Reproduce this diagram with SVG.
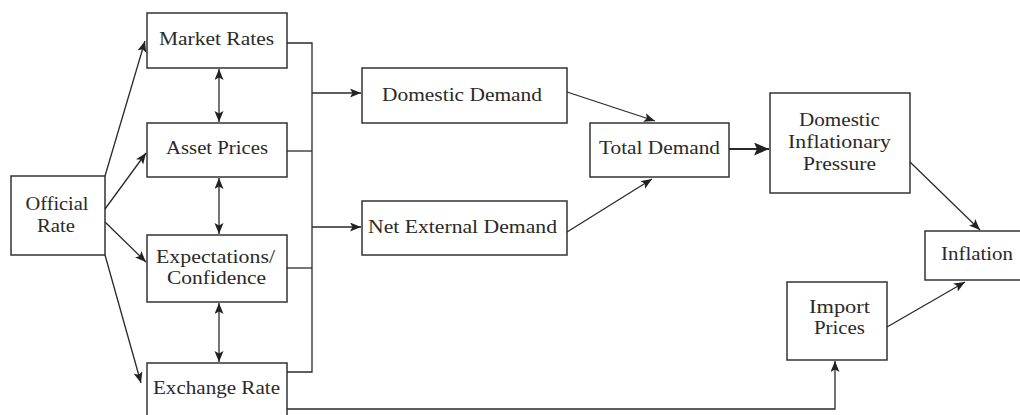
<svg xmlns="http://www.w3.org/2000/svg" width="1020" height="415" viewBox="0 0 1020 415">
<style>
rect{fill:#fff;stroke:#333;stroke-width:1.5}
text{font-family:"Liberation Serif","Times New Roman",serif;font-size:19px;fill:#2a2a2a;text-anchor:middle}
.c line,.c polyline{fill:none;stroke:#2a2a2a;stroke-width:1.3}
.c .thick{stroke-width:2.2}
</style>
<defs>
<marker id="a" markerUnits="userSpaceOnUse" markerWidth="12" markerHeight="10" refX="11" refY="4.5" orient="auto-start-reverse"><path d="M0,0 L11,4.5 L0,9 L2.5,4.5 z" fill="#222"/></marker>
<marker id="b" markerUnits="userSpaceOnUse" markerWidth="16" markerHeight="14" refX="15" refY="6.5" orient="auto"><path d="M0,0 L15,6.5 L0,13 L3,6.5 z" fill="#222"/></marker>
</defs>
<g id="official"><rect x="11" y="176" width="94" height="79"/><text x="57" y="210" textLength="63" lengthAdjust="spacingAndGlyphs">Official</text><text x="56" y="232" textLength="38" lengthAdjust="spacingAndGlyphs">Rate</text></g>
<g id="market"><rect x="147" y="13" width="140" height="55"/><text x="216.5" y="45" textLength="115" lengthAdjust="spacingAndGlyphs">Market Rates</text></g>
<g id="asset"><rect x="147" y="123" width="140" height="54"/><text x="217" y="154" textLength="102" lengthAdjust="spacingAndGlyphs">Asset Prices</text></g>
<g id="expect"><rect x="147" y="235" width="140" height="67"/><text x="215.5" y="263" textLength="119" lengthAdjust="spacingAndGlyphs">Expectations/</text><text x="216.5" y="284" textLength="99" lengthAdjust="spacingAndGlyphs">Confidence</text></g>
<g id="exchange"><rect x="147" y="363" width="140" height="60"/><text x="216.5" y="394" textLength="127" lengthAdjust="spacingAndGlyphs">Exchange Rate</text></g>
<g id="domdemand"><rect x="362" y="68" width="205" height="55"/><text x="462" y="101" textLength="160" lengthAdjust="spacingAndGlyphs">Domestic Demand</text></g>
<g id="netext"><rect x="362" y="201" width="205" height="54"/><text x="462.5" y="233" textLength="189" lengthAdjust="spacingAndGlyphs">Net External Demand</text></g>
<g id="total"><rect x="590" y="123" width="139" height="54"/><text x="659.5" y="154" textLength="121" lengthAdjust="spacingAndGlyphs">Total Demand</text></g>
<g id="dip"><rect x="770" y="93" width="140" height="100"/><text x="839.5" y="126" textLength="81" lengthAdjust="spacingAndGlyphs">Domestic</text><text x="839.5" y="148" textLength="103" lengthAdjust="spacingAndGlyphs">Inflationary</text><text x="839.5" y="170" textLength="73" lengthAdjust="spacingAndGlyphs">Pressure</text></g>
<g id="inflation"><rect x="925" y="231" width="100" height="49"/><text x="977" y="260" textLength="72" lengthAdjust="spacingAndGlyphs">Inflation</text></g>
<g id="import"><rect x="787" y="282" width="100" height="78"/><text x="839.5" y="313" textLength="61" lengthAdjust="spacingAndGlyphs">Import</text><text x="839.5" y="334" textLength="51" lengthAdjust="spacingAndGlyphs">Prices</text></g>
<g id="connectors" class="c">
<line x1="105" y1="176" x2="145" y2="41" marker-end="url(#a)"/>
<line x1="105" y1="209" x2="146" y2="153" marker-end="url(#a)"/>
<line x1="105" y1="222" x2="146" y2="262" marker-end="url(#a)"/>
<line x1="105" y1="255" x2="141" y2="383" marker-end="url(#a)"/>
<line x1="219" y1="69" x2="219" y2="122" marker-start="url(#a)" marker-end="url(#a)"/>
<line x1="219" y1="178" x2="219" y2="234" marker-start="url(#a)" marker-end="url(#a)"/>
<line x1="219" y1="303" x2="219" y2="362" marker-start="url(#a)" marker-end="url(#a)"/>
<polyline points="287,43 312,43 312,372 287,372"/>
<line x1="287" y1="151" x2="312" y2="151"/>
<line x1="287" y1="268" x2="312" y2="268"/>
<line x1="312" y1="93" x2="361" y2="93" marker-end="url(#a)"/>
<line x1="312" y1="227" x2="361" y2="227" marker-end="url(#a)"/>
<line x1="567" y1="92" x2="655" y2="121" marker-end="url(#a)"/>
<line x1="567" y1="232" x2="652" y2="179" marker-end="url(#a)"/>
<line class="thick" x1="729" y1="149" x2="769" y2="149" marker-end="url(#b)"/>
<line x1="910" y1="162" x2="980" y2="230" marker-end="url(#a)"/>
<line x1="887" y1="327" x2="965" y2="282" marker-end="url(#a)"/>
<polyline points="287,409 835,409 835,361" marker-end="url(#a)"/>
</g>
</svg>
